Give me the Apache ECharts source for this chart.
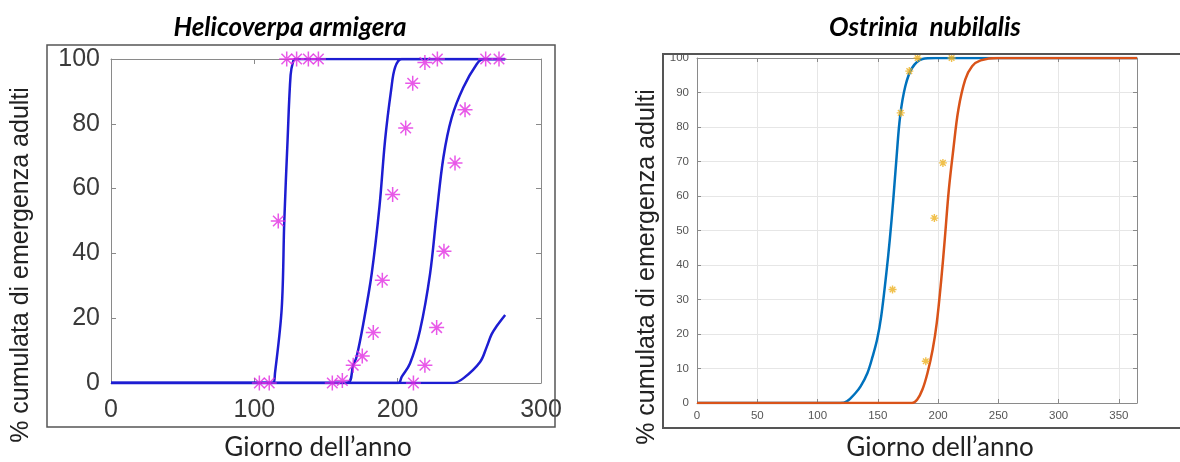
<!DOCTYPE html>
<html><head><meta charset="utf-8">
<script src="https://cdn.jsdelivr.net/npm/echarts/dist/echarts.min.js"></script>
<style>html,body{margin:0;padding:0;background:#fff}#c{width:1180px;height:462px}</style>
</head><body><div id="c"></div>
<script>
// ---------- texts ----------
const panelTitles = ['Helicoverpa armigera', 'Ostrinia  nubilalis'];
const yAxisTitle = '% cumulata di emergenza adulti';
const xAxisTitle = 'Giorno dell\u2019anno';

// ---------- axis ticks ----------
const helXTicks = [0, 100, 200, 300];
const helYTicks = [0, 20, 40, 60, 80, 100];
const ostXTicks = [0, 50, 100, 150, 200, 250, 300, 350];
const ostXMax = 365;
const ostYTicks = [0, 10, 20, 30, 40, 50, 60, 70, 80, 90, 100];

// ---------- Helicoverpa armigera: fitted curves [day, %] ----------
const helCurve1 = [[0,0],[113,0],[114.4,3],[119.1,23],[120.9,50],[123.2,75],[125.3,95],[127.1,99.3],[128.5,100],[275,100]];
const helCurve2 = [[0,0],[164.4,0],[169,5.5],[171.4,8.2],[176.1,18.5],[181.9,33.8],[187.3,54.4],[191.2,74.9],[195.4,90.3],[198.2,97.4],[202.8,100],[275,100]];
const helCurve3 = [[0,0],[200.5,0],[202.8,1.9],[208.6,6],[215.6,16.3],[222.6,33.7],[227.2,52.2],[231.9,69.6],[237.7,81.9],[245.8,91.2],[255.1,98.4],[259.8,100],[275,100]];
const helCurve4 = [[0,0],[238.8,0],[246,1.5],[257.5,6.5],[262,11],[265.5,15],[269,17.5],[275,21]];
// observed points
const helObserved = [[103.5,0],[110.4,0],[116.7,50],[122.6,100],[129.5,100],[137.7,100],[144.7,100],
  [154.4,0],[161.4,0.8],[169,5.5],[175.3,8.3],[183,15.6],[189.3,31.7],[196.5,58.2],[205.6,78.7],[210.5,92.5],[219,98.9],[227.7,100],
  [211,0],[219,5.5],[227.2,17.1],[232.3,40.7],[240,67.9],[247,84.3],[261.4,100],[270.7,100]];

// ---------- Ostrinia nubilalis ----------
const ostCurveBlue = [[0,0],[118.7,0],[124.4,0.5],[131.5,2.9],[135.7,4.8],[141.4,8.7],[145.7,13.5],[149.4,18.4],[152.8,25.1],[157.1,37.7],[159.9,47.3],[162.8,58.9],[165.6,71.5],[168.5,83.1],[172.8,91.8],[178.4,97.1],[187,99.7],[198,100],[365,100]];
const ostCurveOrange = [[0,0],[178.4,0],[182.7,1],[187,3.9],[191.2,8.7],[195.5,15.5],[198.9,23.2],[202.6,35.7],[205.5,47.3],[208.9,61.8],[212.6,73.4],[216.8,85],[222.5,93.7],[228.2,97.6],[235.3,99.3],[249.6,100],[365,100]];
const ostObserved = [[162.2,32.9],[169,84.1],[176.1,96.2],[183,100],[189.8,12.1],[196.9,53.6],[204,69.6],[211.2,100]];

const star = 'path://M10 0 L10 20 M0 10 L20 10 M3 3 L17 17 M3 17 L17 3';
const chart = echarts.init(document.getElementById('c'), null, {renderer: 'canvas'});

const helBlue = '#1d1dd2', helMag = '#e22ee2';
const boxGray = '#8a8a8a';
function frameAxis(grid, pos, ticks, max, extra) {
  return Object.assign({
    type: 'value', gridIndex: grid, position: pos,
    min: ticks[0], max: max !== undefined ? max : ticks[ticks.length - 1], interval: ticks[1] - ticks[0],
    axisLine: {show: true, onZero: false, lineStyle: {color: boxGray, width: 1}},
    axisTick: {show: true, inside: true, length: 5, lineStyle: {color: boxGray}},
    axisLabel: {show: false},
    splitLine: {show: false}
  }, extra || {});
}
const helLabel = {show: true, fontFamily: 'Liberation Sans', fontSize: 25, color: '#3a3a3a'};
const ostLabel = {show: true, fontFamily: 'Liberation Sans Narrow, Liberation Sans', fontSize: 11.5, color: '#555'};
const ostSplit = {show: true, lineStyle: {color: '#e6e6e6', width: 1}};

const curveSeries = (data, xi, yi, color, w) => ({
  type: 'line', xAxisIndex: xi, yAxisIndex: yi, data, showSymbol: false, symbol: 'none',
  smooth: 0.35, lineStyle: {color, width: w}, z: 2
});

chart.setOption({
  animation: false,
  grid: [
    {left: 111, top: 59, width: 430, height: 324},
    {left: 697, top: 58, width: 440, height: 345}
  ],
  xAxis: [
    frameAxis(0, 'bottom', helXTicks, undefined, {axisLabel: Object.assign({margin: 15}, helLabel)}),
    frameAxis(0, 'top', helXTicks),
    frameAxis(1, 'bottom', ostXTicks, ostXMax, {axisLabel: Object.assign({margin: 7, showMaxLabel: false}, ostLabel), splitLine: ostSplit, axisTick: {show: true, inside: true, length: 4, lineStyle: {color: boxGray}}}),
    frameAxis(1, 'top', ostXTicks, ostXMax, {axisTick: {show: true, inside: true, length: 4, lineStyle: {color: boxGray}}})
  ],
  yAxis: [
    frameAxis(0, 'left', helYTicks, undefined, {axisLabel: Object.assign({margin: 11}, helLabel)}),
    frameAxis(0, 'right', helYTicks),
    frameAxis(1, 'left', ostYTicks, undefined, {axisLabel: Object.assign({margin: 8}, ostLabel), splitLine: ostSplit, axisTick: {show: true, inside: true, length: 4, lineStyle: {color: boxGray}}}),
    frameAxis(1, 'right', ostYTicks, undefined, {axisTick: {show: true, inside: true, length: 4, lineStyle: {color: boxGray}}})
  ],
  series: [
    curveSeries(helCurve1, 0, 0, helBlue, 2.5),
    curveSeries(helCurve2, 0, 0, helBlue, 2.5),
    curveSeries(helCurve3, 0, 0, helBlue, 2.5),
    curveSeries(helCurve4, 0, 0, helBlue, 2.5),
    {type: 'scatter', xAxisIndex: 0, yAxisIndex: 0, data: helObserved, symbol: star, symbolSize: 15,
     itemStyle: {color: 'rgba(0,0,0,0)', borderColor: helMag, borderWidth: 1.5}, z: 3},
    curveSeries(ostCurveBlue, 2, 2, '#0072BD', 2.5),
    curveSeries(ostCurveOrange, 2, 2, '#D95319', 2.5),
    {type: 'scatter', xAxisIndex: 2, yAxisIndex: 2, data: ostObserved, symbol: star, symbolSize: 8,
     itemStyle: {color: 'rgba(0,0,0,0)', borderColor: '#EDB120', borderWidth: 1.4}, z: 3}
  ],
  graphic: [
    {type: 'rect', shape: {x: 47, y: 45, width: 508, height: 382}, style: {fill: 'none', stroke: '#555', lineWidth: 1.5}, z: 10},
    {type: 'polyline', shape: {points: [[1180, 54], [663, 54], [663, 428], [1180, 428]]}, style: {fill: 'none', stroke: '#555', lineWidth: 2}, z: 10},
    {type: 'text', x: 290, y: 28, style: {text: panelTitles[0], font: 'italic bold 26px Lato', fill: '#000', align: 'center', verticalAlign: 'middle', textAlign: 'center', textVerticalAlign: 'middle'}},
    {type: 'text', x: 925, y: 28, style: {text: panelTitles[1], font: 'italic bold 26px Lato', fill: '#000', align: 'center', verticalAlign: 'middle', textAlign: 'center', textVerticalAlign: 'middle'}},
    {type: 'text', x: 318, y: 448, style: {text: xAxisTitle, font: '26px Lato', fill: '#222', align: 'center', verticalAlign: 'middle', textAlign: 'center', textVerticalAlign: 'middle'}},
    {type: 'text', x: 940, y: 448, style: {text: xAxisTitle, font: '26px Lato', fill: '#222', align: 'center', verticalAlign: 'middle', textAlign: 'center', textVerticalAlign: 'middle'}},
    {type: 'text', x: 21, y: 265, rotation: Math.PI / 2, style: {text: yAxisTitle, font: '25px "Liberation Sans"', fill: '#222', align: 'center', verticalAlign: 'middle', textAlign: 'center', textVerticalAlign: 'middle'}},
    {type: 'text', x: 647, y: 267, rotation: Math.PI / 2, style: {text: yAxisTitle, font: '25px "Liberation Sans"', fill: '#222', align: 'center', verticalAlign: 'middle', textAlign: 'center', textVerticalAlign: 'middle'}}
  ]
});
</script></body></html>
